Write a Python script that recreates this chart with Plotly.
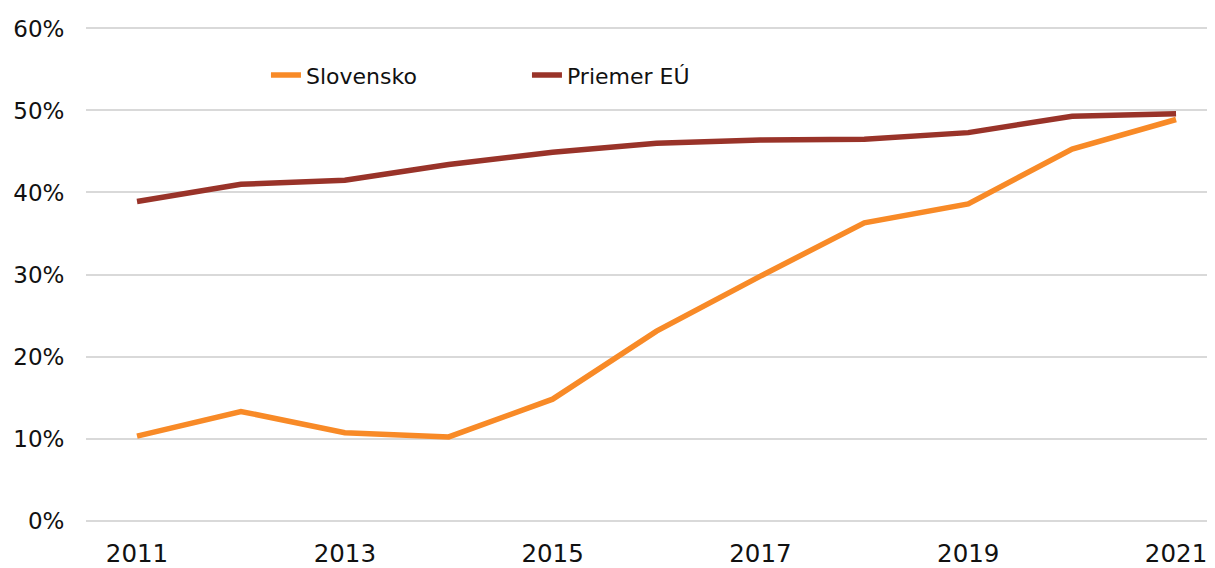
import plotly.graph_objects as go

years = [2011, 2012, 2013, 2014, 2015, 2016, 2017, 2018, 2019, 2020, 2021]
slovensko = [10.3, 13.3, 10.7, 10.2, 14.8, 23.1, 29.8, 36.3, 38.6, 45.3, 48.9]
priemer_eu = [38.9, 41.0, 41.5, 43.4, 44.9, 46.0, 46.4, 46.5, 47.3, 49.3, 49.6]
x_ticks = [2011, 2013, 2015, 2017, 2019, 2021]
y_ticks = [0, 10, 20, 30, 40, 50, 60]

FONT = "DejaVu Sans, Arial, sans-serif"

fig = go.Figure()
fig.add_trace(go.Scatter(x=years, y=slovensko, name="Slovensko", mode="lines",
                         line=dict(color="#F88A27", width=5.5)))
fig.add_trace(go.Scatter(x=years, y=priemer_eu, name="Priemer EÚ", mode="lines",
                         line=dict(color="#993329", width=5.5)))

fig.update_layout(
    width=1207, height=560,
    margin=dict(l=78, r=0, t=17.5, b=44.5),
    paper_bgcolor="white", plot_bgcolor="white",
    font=dict(family=FONT, size=22, color="#111111"),
    showlegend=True,
    legend=dict(orientation="h", x=0.1594, y=0.901, xanchor="left", yanchor="middle",
                font=dict(size=22, color="#111111"), itemwidth=30,
                bgcolor="rgba(0,0,0,0)", tracegroupgap=0, entrywidth=216),
    xaxis=dict(range=[2010.509, 2021.375], tickvals=x_ticks, ticktext=[str(v) for v in x_ticks],
               showgrid=False, zeroline=False, showline=False, automargin=False,
               tickfont=dict(size=24.5),
               ticks="outside", ticklen=8.5, tickcolor="rgba(0,0,0,0)"),
    yaxis=dict(range=[-0.3, 60.3], tickvals=y_ticks, ticktext=[f"{v}%" for v in y_ticks],
               showgrid=True, gridcolor="#D9D9D9", gridwidth=2, zeroline=False, showline=False,
               automargin=False, tickfont=dict(size=23),
               ticks="outside", ticklen=16, tickcolor="rgba(0,0,0,0)"),
)

fig.write_html("out.html")
